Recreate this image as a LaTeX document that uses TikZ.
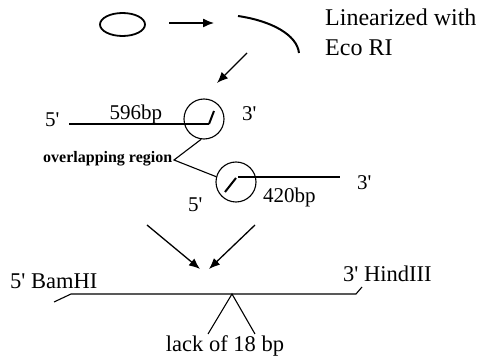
\documentclass[tikz,border=0pt]{standalone}
\usepackage{fontspec}
\setmainfont{Liberation Serif}
\usetikzlibrary{arrows.meta,shapes.geometric}

\begin{document}
\begin{tikzpicture}[x=1pt, y=-1pt,
		every node/.style={inner sep=0pt},
		tag/.style={anchor=base west, font=\fontsize{21}{25}\selectfont},
		bigtag/.style={tag, font=\fontsize{22.5}{27}\selectfont},
		site/.style={draw, circle, minimum size=40pt, line width=1.1pt},
		strand/.style={line width=1.1pt},
		cut/.style={line width=2pt},
		flow/.style={line width=1.3pt, -{Latex[length=11pt,width=9pt]}}]
		\useasboundingbox (0,0) rectangle (480,358);

		\node[draw, ellipse, minimum width=45pt, minimum height=23pt, line width=1.8pt] (plasmid) at (122.5,24.5) {};
		\coordinate (openStart) at (238,16);
		\coordinate (openEnd) at (299,53);
		\draw[line width=2pt] (openStart) .. controls (272,21) and (297,35) .. (openEnd);
		\node[tag, font=\fontsize{24}{30}\selectfont] (linText) at (325,26) {Linearized with};
		\node[tag, font=\fontsize{24}{30}\selectfont] (ecoText) at (325,56) {Eco RI};

		\coordinate (openArrowA) at (169,23);
		\coordinate (openArrowB) at (214,23);
		\draw[flow] (openArrowA) -- (openArrowB);
		\coordinate (pcrArrowA) at (247,53);
		\coordinate (pcrArrowB) at (217,83);
		\draw[flow] (pcrArrowA) -- (pcrArrowB);

		\node[site] (siteA) at (204,119) {};
		\node[site] (siteB) at (236,182) {};

		\coordinate (leftEnd) at (69,124);
		\coordinate (leftCut) at (209,124);
		\coordinate (leftTip) at (214,111);
		\draw[strand] (leftEnd) -- (leftCut);
		\draw[cut] (leftCut) -- (leftTip);
		\coordinate (rightCut) at (238,177);
		\coordinate (rightEnd) at (340,177);
		\coordinate (rightTip) at (225,192);
		\draw[strand] (rightCut) -- (rightEnd);
		\draw[cut] (rightTip) -- (236,178);

		\node[tag] (fiveA) at (45,127) {5\textquotesingle};
		\node[tag] (lenA) at (109.5,120) {596bp};
		\node[tag] (threeA) at (242,120.5) {3\textquotesingle};
		\node[tag] (fiveB) at (188,212) {5\textquotesingle};
		\node[tag] (lenB) at (263,203) {420bp};
		\node[tag] (threeB) at (357,190) {3\textquotesingle};

		\node[tag, font=\fontsize{16}{19}\selectfont\bfseries] (overlapText) at (43,163) {overlapping region};
		\coordinate (overlapBend) at (174,160);
		\draw[strand] (siteA.262) -- (overlapBend) -- (siteB.165);

		\coordinate (joinA) at (147,225);
		\coordinate (joinB) at (255,225);
		\coordinate (joinTipA) at (200,269);
		\coordinate (joinTipB) at (209,269);
		\draw[flow] (joinA) -- (joinTipA);
		\draw[flow] (joinB) -- (joinTipB);

		\coordinate (bamEnd) at (54,302);
		\coordinate (bamCorner) at (71,294);
		\coordinate (hindCorner) at (356,294);
		\coordinate (hindEnd) at (362,287);
		\draw[strand] (bamEnd) -- (bamCorner) -- (hindCorner) -- (hindEnd);
		\node[bigtag] (bamText) at (10,288.5) {5\textquotesingle{} BamHI};
		\node[bigtag] (hindText) at (343,282) {3\textquotesingle{} HindIII};

		\coordinate (gap) at (232,294);
		\coordinate (gapLeft) at (208,334);
		\coordinate (gapRight) at (255,334);
		\draw[strand] (gapLeft) -- (gap) -- (gapRight);
		\node[bigtag, anchor=base] (lackText) at (225,352) {lack of 18 bp};
	\end{tikzpicture}
\end{document}
